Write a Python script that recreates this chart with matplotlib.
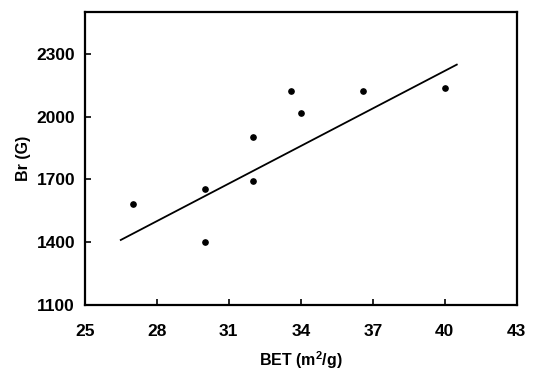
import matplotlib
matplotlib.use("Agg")
import matplotlib.pyplot as plt

# measured points (BET surface area vs remanence)
bet = [27.0, 30.0, 30.0, 32.0, 32.0, 33.6, 34.0, 36.6, 40.0]
br = [1583, 1655, 1403, 1903, 1693, 2121, 2019, 2123, 2136]

# fitted line endpoints
fit_x = [26.5, 40.5]
fit_y = [1411, 2249]

xticks = [25, 28, 31, 34, 37, 40, 43]
yticks = [1100, 1400, 1700, 2000, 2300]

plt.rcParams['font.family'] = ['Liberation Sans', 'DejaVu Sans']

fig = plt.figure(figsize=(5.4, 3.78), dpi=100)
ax = fig.add_axes([0.157, 0.193, 0.8, 0.775])

ax.plot(fit_x, fit_y, color='black', lw=1.3)
ax.plot(bet, br, 'o', color='black', ms=3.8)

ax.set_xlim(25, 43)
ax.set_ylim(1100, 2500)
ax.set_xticks(xticks)
ax.set_yticks(yticks)
ax.tick_params(direction='in', length=4, width=1.2, labelsize=12.5)
ax.tick_params(axis='x', pad=14)
ax.tick_params(axis='y', pad=7)
for lab in ax.get_xticklabels() + ax.get_yticklabels():
    lab.set_fontweight('bold')
for s in ax.spines.values():
    s.set_linewidth(1.6)

ax.set_xlabel('BET (m$^{\\mathregular{2}}$/g)', fontsize=11.5, fontweight='bold', labelpad=7)
ax.set_ylabel('Br (G)', fontsize=11.5, fontweight='bold', labelpad=4)

fig.savefig('out.png', dpi=100)
